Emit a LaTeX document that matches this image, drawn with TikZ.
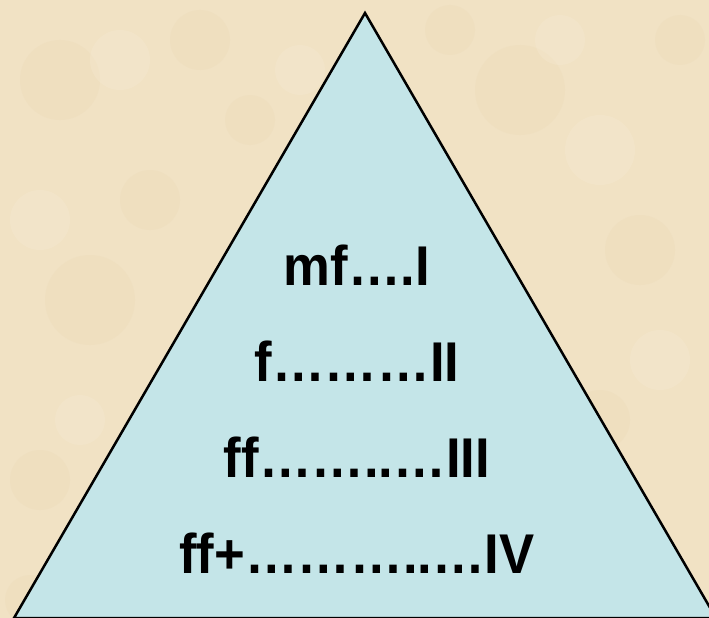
\documentclass[tikz,border=0pt]{standalone}
\usepackage{fontspec}
\setmainfont{Liberation Sans}
\newfontfamily\lvlfont[FakeStretch=0.94]{Liberation Sans}
\definecolor{parch}{HTML}{F1E2C4}
\definecolor{parchdark}{HTML}{E8D4AE}
\definecolor{parchlight}{HTML}{F7EDD8}
\definecolor{tri}{HTML}{C4E5E8}
\tikzset{lvl/.style={anchor=base, font=\lvlfont\fontsize{56}{60}\selectfont\bfseries, inner sep=0pt}}
\begin{document}
\begin{tikzpicture}[x=1pt,y=-1pt]
\useasboundingbox (0,0) rectangle (709,618);
\fill[parch] (0,0) rectangle (709,618);
\begin{scope}
\clip (0,0) rectangle (709,618);
\foreach \cx/\cy/\r in {60/80/40, 200/40/30, 520/90/45, 640/250/35, 90/300/45, 600/420/30, 40/480/30, 250/120/25, 680/40/25, 150/200/30, 450/30/25, 30/600/25}
  \fill[parchdark, opacity=0.2] (\cx,\cy) circle (\r);
\foreach \cx/\cy/\r in {120/60/30, 300/70/25, 600/150/35, 40/220/30, 660/360/30, 80/420/25, 560/40/25}
  \fill[parchlight, opacity=0.25] (\cx,\cy) circle (\r);
\coordinate (apex) at (365,13);
\coordinate (bl) at (14,618);
\coordinate (br) at (716,618);
\filldraw[fill=tri, draw=black, line width=2.5pt, line join=miter] (apex) -- (bl) -- (br) -- cycle;
\end{scope}
\node[lvl] (l1) at (357,285) {mf….I};
\node[lvl] (l2) at (357,381) {f………II};
\node[lvl] (l3) at (357,477) {ff……..…III};
\node[lvl] (l4) at (357,573) {ff+………..…IV};
\end{tikzpicture}
\end{document}
